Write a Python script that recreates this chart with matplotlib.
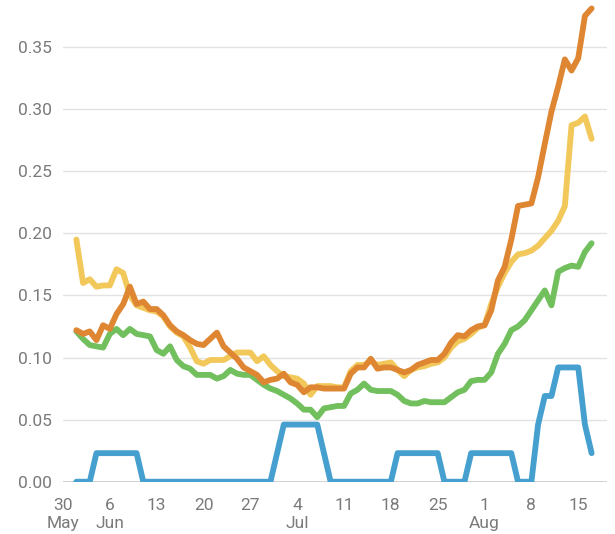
import numpy as np
import matplotlib
matplotlib.use('Agg')
from matplotlib import pyplot as plt

## data, one value per day from 1 Jun to 17 Aug
start = np.datetime64('2020-06-01')
orange = [0.122, 0.119, 0.121, 0.114, 0.126, 0.123, 0.135, 0.143, 0.157, 0.143,
          0.145, 0.139, 0.139, 0.134, 0.126, 0.121, 0.118, 0.114, 0.111, 0.110,
          0.115, 0.120, 0.109, 0.104, 0.099, 0.092, 0.089, 0.086, 0.080, 0.082,
          0.083, 0.087, 0.080, 0.078, 0.072, 0.076, 0.076, 0.075, 0.075, 0.075,
          0.075, 0.087, 0.092, 0.092, 0.099, 0.091, 0.092, 0.092, 0.090, 0.088,
          0.090, 0.094, 0.096, 0.098, 0.098, 0.103, 0.112, 0.118, 0.117, 0.122,
          0.125, 0.126, 0.138, 0.162, 0.173, 0.195, 0.222, 0.223, 0.224, 0.245,
          0.272, 0.298, 0.318, 0.340, 0.331, 0.341, 0.375, 0.381]
yellow = [0.195, 0.160, 0.163, 0.157, 0.158, 0.158, 0.171, 0.168, 0.150, 0.142,
          0.140, 0.138, 0.137, 0.133, 0.125, 0.120, 0.117, 0.108, 0.097, 0.095,
          0.098, 0.098, 0.098, 0.101, 0.104, 0.104, 0.104, 0.097, 0.101, 0.094,
          0.089, 0.085, 0.084, 0.083, 0.079, 0.070, 0.077, 0.077, 0.077, 0.076,
          0.076, 0.089, 0.094, 0.094, 0.097, 0.094, 0.095, 0.096, 0.090, 0.085,
          0.090, 0.092, 0.093, 0.095, 0.096, 0.100, 0.108, 0.113, 0.115, 0.119,
          0.124, 0.126, 0.143, 0.157, 0.168, 0.177, 0.183, 0.184, 0.186, 0.190,
          0.196, 0.202, 0.210, 0.222, 0.287, 0.289, 0.294, 0.276]
green = [0.121, 0.115, 0.110, 0.109, 0.108, 0.119, 0.123, 0.118, 0.123, 0.119,
         0.118, 0.117, 0.106, 0.103, 0.109, 0.098, 0.093, 0.091, 0.086, 0.086,
         0.086, 0.083, 0.085, 0.090, 0.087, 0.086, 0.086, 0.082, 0.078, 0.075,
         0.073, 0.070, 0.067, 0.063, 0.058, 0.058, 0.052, 0.059, 0.060, 0.061,
         0.061, 0.071, 0.074, 0.079, 0.074, 0.073, 0.073, 0.073, 0.070, 0.065,
         0.063, 0.063, 0.065, 0.064, 0.064, 0.064, 0.068, 0.072, 0.074, 0.081,
         0.082, 0.082, 0.088, 0.103, 0.111, 0.122, 0.125, 0.130, 0.138, 0.146,
         0.154, 0.142, 0.169, 0.172, 0.174, 0.173, 0.185, 0.192]
blue = [0, 0, 0, 0.023, 0.023, 0.023, 0.023, 0.023, 0.023, 0.023,
        0, 0, 0, 0, 0, 0, 0, 0, 0, 0,
        0, 0, 0, 0, 0, 0, 0, 0, 0, 0,
        0.023, 0.046, 0.046, 0.046, 0.046, 0.046, 0.046, 0.023, 0, 0,
        0, 0, 0, 0, 0, 0, 0, 0, 0.023, 0.023,
        0.023, 0.023, 0.023, 0.023, 0.023, 0, 0, 0, 0, 0.023,
        0.023, 0.023, 0.023, 0.023, 0.023, 0.023, 0, 0, 0, 0.046,
        0.069, 0.069, 0.092, 0.092, 0.092, 0.092, 0.046, 0.023]

tick_dates = ['2020-05-30', '2020-06-06', '2020-06-13', '2020-06-20', '2020-06-27',
              '2020-07-04', '2020-07-11', '2020-07-18', '2020-07-25', '2020-08-01',
              '2020-08-08', '2020-08-15']
tick_labels = ['30\nMay', '6\nJun', '13', '20', '27', '4\nJul', '11', '18', '25',
               '1\nAug', '8', '15']
y_ticks = [0.0, 0.05, 0.10, 0.15, 0.20, 0.25, 0.30, 0.35]

## draw
days = start + np.arange(len(orange))
x = days.astype('datetime64[D]').astype(float)
xt = np.array(tick_dates, dtype='datetime64[D]').astype(float)
x0 = np.datetime64('2020-05-30').astype('datetime64[D]').astype(float)

plt.rcParams['font.family'] = ['Roboto', 'DejaVu Sans']
fig = plt.figure(figsize=(6.15, 5.34), dpi=100)
ax = fig.add_axes([0.1024, 0.0979, 0.8846, 0.9021])

ax.set_xlim(x0, x0 + 81.3)
ax.set_ylim(0, 0.3878)
for v in y_ticks[1:]:
    ax.axhline(v, color='#e3e3e3', lw=1.0, zorder=0)
ax.axhline(0, color='#222222', lw=1.0, zorder=1)

kw = dict(lw=4.2, solid_joinstyle='round', solid_capstyle='round')
ax.plot(x, blue, color='#459fcf', zorder=3, **kw)
ax.plot(x, green, color='#72bf5e', zorder=4, **kw)
ax.plot(x, yellow, color='#f2c85a', zorder=5, **kw)
ax.plot(x, orange, color='#df8633', zorder=6, **kw)

ax.set_yticks(y_ticks)
ax.set_yticklabels(['%.2f' % v for v in y_ticks])
ax.set_xticks(xt)
ax.set_xticklabels(tick_labels, linespacing=1.25)
ax.tick_params(axis='both', length=0, labelsize=12.5, colors='#7a7a7a')
ax.tick_params(axis='y', pad=8)
ax.tick_params(axis='x', pad=11.5)
for s in ax.spines.values():
    s.set_visible(False)

fig.savefig('out.png', dpi=100)
